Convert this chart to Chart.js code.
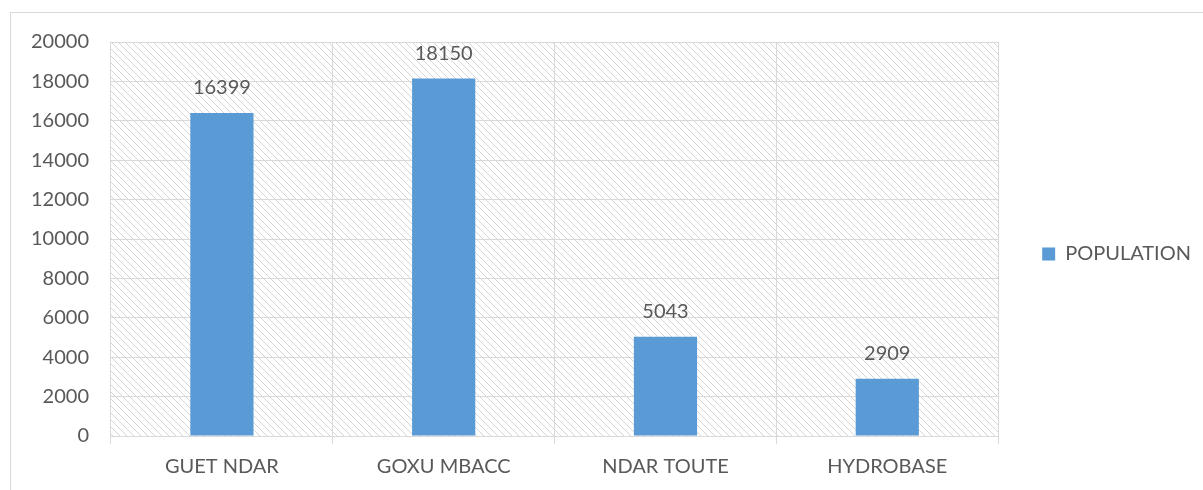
<!DOCTYPE html>
<html>
<head>
<meta charset="utf-8">
<script src="https://cdn.jsdelivr.net/npm/chart.js@4.4.0/dist/chart.umd.min.js"></script>
<style>
  html, body { margin: 0; padding: 0; background: #fff; }
  #wrap { width: 1203px; height: 490px; }
</style>
</head>
<body>
<div id="wrap"><canvas id="popChart"></canvas></div>
<script>
const categories = ["GUET NDAR", "GOXU MBACC", "NDAR TOUTE", "HYDROBASE"];
const population = [16399, 18150, 5043, 2909];
const yTicks = [0, 2000, 4000, 6000, 8000, 10000, 12000, 14000, 16000, 18000, 20000];

const textColor = "#595959";
const gridColor = "#d9d9d9";
const font = { family: "Lato", size: 20 };

function hatchPattern(ctx) {
  const s = 7;
  const c = document.createElement("canvas");
  c.width = s;
  c.height = s;
  const p = c.getContext("2d");
  p.fillStyle = "#d6d6d6";
  for (let i = 0; i < s; i++) p.fillRect(i, i, 1, 1);
  return ctx.createPattern(c, "repeat");
}

const background = {
  id: "background",
  beforeDraw(chart) {
    const { ctx, chartArea: a } = chart;
    ctx.save();
    ctx.strokeStyle = gridColor;
    ctx.lineWidth = 1;
    ctx.strokeRect(10.5, 12.5, 1300, 600);
    ctx.fillStyle = hatchPattern(ctx);
    ctx.translate(a.left, a.top);
    ctx.fillRect(0, 0, a.right - a.left, a.bottom - a.top);
    ctx.restore();
  },
};

// legend sits a little higher than the middle of the plot
const legendShift = {
  id: "legendShift",
  afterLayout(chart) {
    chart.legend.top -= 12;
    chart.legend.bottom -= 12;
  },
};

const valueLabels = {
  id: "valueLabels",
  afterDatasetsDraw(chart) {
    const { ctx } = chart;
    const meta = chart.getDatasetMeta(0);
    ctx.save();
    ctx.font = "20px Lato";
    ctx.fillStyle = textColor;
    ctx.textAlign = "center";
    ctx.textBaseline = "middle";
    meta.data.forEach((bar, i) => {
      ctx.fillText(population[i], bar.x, bar.y - 25);
    });
    ctx.restore();
  },
};

const ctx = document.getElementById("popChart").getContext("2d");
new Chart(ctx, {
  type: "bar",
  data: {
    labels: categories,
    datasets: [
      {
        label: "POPULATION",
        data: population,
        backgroundColor: "#5b9bd5",
        categoryPercentage: 1,
        barPercentage: 0.285,
      },
    ],
  },
  options: {
    responsive: true,
    maintainAspectRatio: false,
    animation: false,
    layout: { padding: { top: 42, left: 9, right: 2, bottom: 0 } },
    plugins: {
      tooltip: { enabled: false },
      legend: {
        position: "right",
        labels: {
          color: textColor,
          font: font,
          boxWidth: 13,
          boxHeight: 13,
          padding: 44,
        },
      },
    },
    scales: {
      x: {
        grid: { color: gridColor, tickLength: 8, offset: true },
        border: { color: gridColor },
        ticks: { color: textColor, font: font, padding: 11 },
      },
      y: {
        min: 0,
        max: 20000,
        afterBuildTicks(axis) {
          axis.ticks = yTicks.map((v) => ({ value: v }));
        },
        grid: { color: gridColor, drawTicks: false },
        border: { color: gridColor },
        ticks: {
          color: textColor,
          font: font,
          padding: 22,
          callback: (v) => String(v),
        },
      },
    },
  },
  plugins: [background, legendShift, valueLabels],
});
</script>
</body>
</html>
